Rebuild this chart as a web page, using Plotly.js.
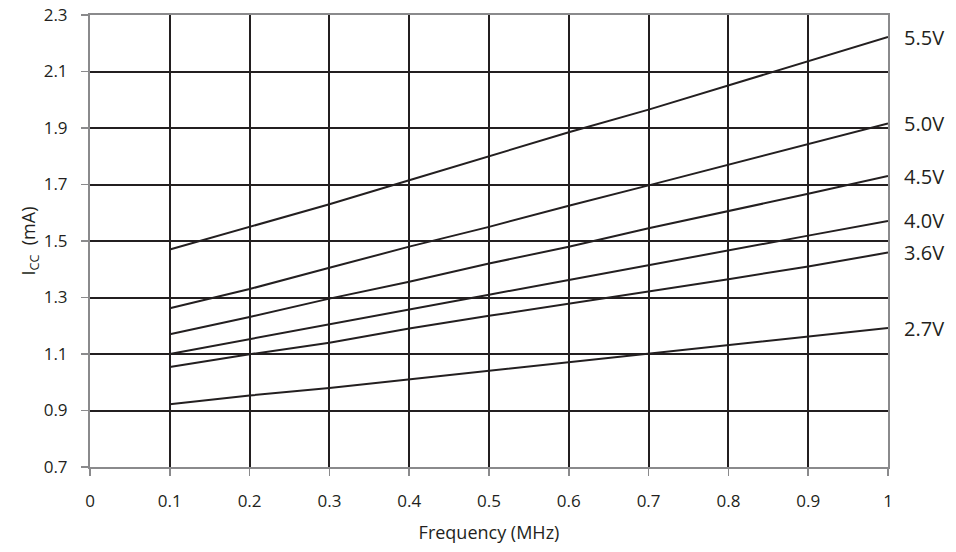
<!DOCTYPE html>
<html>
<head>
<meta charset="utf-8">
<script src="https://cdn.plot.ly/plotly-3.0.1.min.js"></script>
<style>html,body{margin:0;padding:0;background:#fff;}#chart{width:956px;height:552px;}</style>
</head>
<body>
<div id="chart"></div>
<script>
var frequency = [0.1, 0.2, 0.3, 0.4, 0.5, 0.6, 0.7, 0.8, 0.9, 1.0];
var icc55 = [1.47, 1.55, 1.63, 1.715, 1.80, 1.885, 1.965, 2.05, 2.135, 2.222];
var icc50 = [1.262, 1.33, 1.405, 1.48, 1.55, 1.625, 1.697, 1.77, 1.845, 1.916];
var icc45 = [1.17, 1.231, 1.296, 1.356, 1.42, 1.48, 1.545, 1.605, 1.667, 1.73];
var icc40 = [1.10, 1.153, 1.205, 1.258, 1.31, 1.362, 1.415, 1.467, 1.519, 1.571];
var icc36 = [1.054, 1.099, 1.14, 1.19, 1.235, 1.278, 1.32, 1.365, 1.41, 1.459];
var icc27 = [0.922, 0.953, 0.98, 1.01, 1.04, 1.07, 1.101, 1.131, 1.161, 1.192];
var seriesLabels = ["5.5V", "5.0V", "4.5V", "4.0V", "3.6V", "2.7V"];
var seriesData = [icc55, icc50, icc45, icc40, icc36, icc27];
var xTicks = [0, 0.1, 0.2, 0.3, 0.4, 0.5, 0.6, 0.7, 0.8, 0.9, 1];
var yTicks = [0.7, 0.9, 1.1, 1.3, 1.5, 1.7, 1.9, 2.1, 2.3];

var font = "'Open Sans', 'Noto Sans', sans-serif";
var traces = seriesData.map(function (ys, i) {
  return {
    x: frequency, y: ys, type: "scatter", mode: "lines",
    name: seriesLabels[i],
    line: {color: "#231f20", width: 2},
    hoverinfo: "skip"
  };
});
var annotations = seriesData.map(function (ys, i) {
  return {
    x: frequency[frequency.length - 1], y: ys[ys.length - 1],
    xref: "x", yref: "y", text: seriesLabels[i], showarrow: false,
    xanchor: "left", yanchor: "middle", xshift: 14,
    font: {family: font, size: 20, color: "#231f20"}
  };
});
var layout = {
  width: 956, height: 552,
  margin: {l: 90, r: 68, t: 15, b: 85},
  paper_bgcolor: "#ffffff", plot_bgcolor: "#ffffff",
  showlegend: false,
  font: {family: font, size: 17, color: "#231f20"},
  xaxis: {
    range: [0, 1], tickvals: xTicks, ticktext: xTicks.map(String),
    showgrid: true, gridcolor: "#231f20", gridwidth: 2,
    zeroline: false, showline: true, linecolor: "#8a8a8c", linewidth: 2, mirror: true,
    ticks: "outside", ticklen: 7, tickwidth: 1.5, tickcolor: "#8a8a8c",
    ticklabelstandoff: 11,
    tickfont: {family: font, size: 17, color: "#231f20"},
    title: {text: "Frequency (MHz)", font: {family: font, size: 18, color: "#231f20"}, standoff: 15}
  },
  yaxis: {
    range: [0.7, 2.3], tickvals: yTicks, ticktext: yTicks.map(function (v) { return v.toFixed(1); }),
    showgrid: true, gridcolor: "#231f20", gridwidth: 2,
    zeroline: false, showline: true, linecolor: "#8a8a8c", linewidth: 2, mirror: true,
    ticks: "outside", ticklen: 7, tickwidth: 1.5, tickcolor: "#8a8a8c",
    ticklabelstandoff: 10,
    tickfont: {family: font, size: 17, color: "#231f20"},
    title: {text: "I<sub>CC</sub>  (mA)", font: {family: font, size: 18, color: "#231f20"}, standoff: 3}
  },
  annotations: annotations
};
Plotly.newPlot("chart", traces, layout, {displayModeBar: false, staticPlot: true});
</script>
</body>
</html>
